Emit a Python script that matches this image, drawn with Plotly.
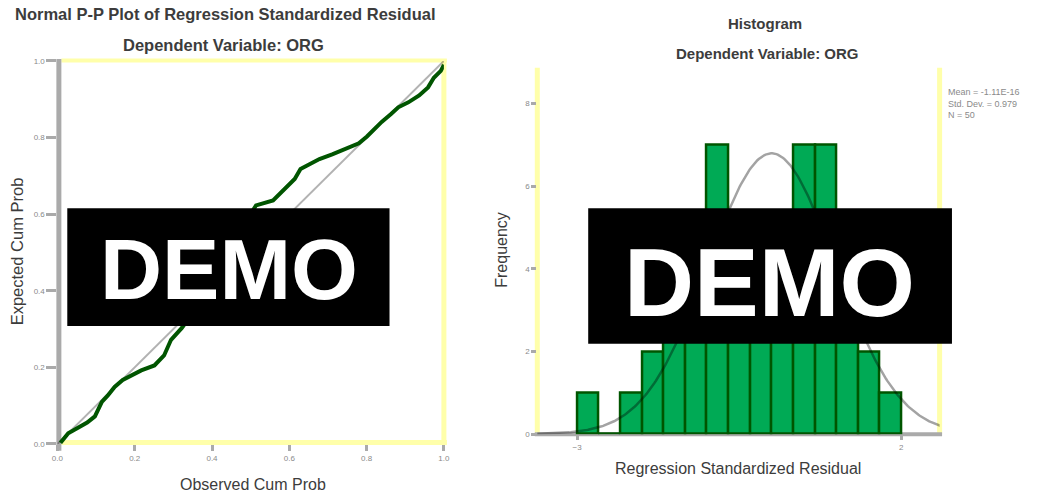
import numpy as np
import plotly.graph_objects as go

W, H = 1040, 501

# ---- Normal P-P plot of regression standardized residual ----
pp_observed = [0.008, 0.028, 0.051, 0.077, 0.097, 0.115, 0.130, 0.148, 0.169, 0.194,
               0.217, 0.251, 0.276, 0.294, 0.309, 0.322, 0.370, 0.430, 0.480, 0.514,
               0.558, 0.583, 0.601, 0.614, 0.629, 0.652, 0.678, 0.711, 0.744, 0.780,
               0.801, 0.821, 0.839, 0.864, 0.882, 0.908, 0.936, 0.959, 0.974, 0.992, 1.000]
pp_expected = [0.003, 0.028, 0.041, 0.056, 0.072, 0.110, 0.126, 0.149, 0.167, 0.179,
               0.192, 0.205, 0.231, 0.272, 0.290, 0.303, 0.370, 0.470, 0.570, 0.623,
               0.636, 0.662, 0.679, 0.692, 0.718, 0.731, 0.744, 0.756, 0.769, 0.785,
               0.803, 0.823, 0.841, 0.862, 0.879, 0.892, 0.910, 0.931, 0.956, 0.974, 0.990]
ref_line = [0.0, 1.0]
pp_ticks = [0.0, 0.2, 0.4, 0.6, 0.8, 1.0]
pp_ticklabels = ["0.0", "0.2", "0.4", "0.6", "0.8", "1.0"]

# ---- Histogram of regression standardized residual ----
bin_lower = [-3.0, -2.667, -2.333, -2.0, -1.667, -1.333, -1.0, -0.667,
             -0.333, 0.0, 0.333, 0.667, 1.0, 1.333, 1.667]
bin_width = 1 / 3
frequency = [1, 0, 1, 2, 3, 4, 7, 4, 4, 4, 7, 7, 3, 2, 1]
resid_mean = 0.0
resid_sd = 0.979
resid_n = 50
hist_xticks = [-3, 2]
hist_yticks = [0, 2, 4, 6, 8]

GREEN_FILL = "#00aa55"
GREEN_DARK = "#005500"
YELLOW = "#ffffaa"
GRAY = "#aaaaaa"
TEXT = "#3c3c3c"
FONT = "Liberation Sans, Arial, sans-serif"


def px(x):
    return x / W


def py(y):
    return 1 - y / H


fig = go.Figure()

# P-P plot traces
fig.add_trace(go.Scatter(x=ref_line, y=ref_line, mode="lines",
                         line=dict(color="rgba(0,0,0,0.30)", width=2),
                         xaxis="x", yaxis="y", hoverinfo="skip"))
fig.add_trace(go.Scatter(x=pp_observed, y=pp_expected, mode="lines",
                         line=dict(color=GREEN_DARK, width=4),
                         xaxis="x", yaxis="y"))

# Histogram bars
centers = [b + bin_width / 2 for b in bin_lower]
fig.add_trace(go.Bar(x=centers, y=frequency, width=bin_width,
                     marker=dict(color=GREEN_FILL, line=dict(color=GREEN_DARK, width=2.5)),
                     xaxis="x2", yaxis="y2"))

# Normal curve scaled to counts per bin
cx = np.linspace(-3.62, 2.62, 300)
cy = resid_n * bin_width / (resid_sd * np.sqrt(2 * np.pi)) * np.exp(-0.5 * ((cx - resid_mean) / resid_sd) ** 2)
fig.add_trace(go.Scatter(x=cx, y=cy, mode="lines",
                         line=dict(color="rgba(0,0,0,0.36)", width=2.5),
                         xaxis="x2", yaxis="y2", hoverinfo="skip"))

tickfont = dict(family=FONT, size=8, color="#8a8a8a")
fig.update_layout(
    width=W, height=H,
    margin=dict(l=0, r=0, t=0, b=0),
    paper_bgcolor="white",
    plot_bgcolor="rgba(0,0,0,0)",
    showlegend=False,
    bargap=0,
    xaxis=dict(domain=[px(52), px(443)], range=[0, 1], tickvals=pp_ticks, ticktext=pp_ticklabels,
               ticks="outside", ticklen=6, tickwidth=3, tickcolor=GRAY, tickfont=tickfont,
               showgrid=False, zeroline=False, showline=False, anchor="y"),
    yaxis=dict(domain=[py(448), py(58)], range=[0, 1], tickvals=pp_ticks, ticktext=pp_ticklabels,
               ticks="outside", ticklen=10, tickwidth=3, tickcolor=GRAY, tickfont=tickfont,
               showgrid=False, zeroline=False, showline=False, anchor="x"),
    xaxis2=dict(domain=[px(537.5), px(944.5)], range=[-3.613, 2.591], tickvals=hist_xticks,
                ticks="outside", ticklen=5, tickwidth=3, tickcolor=GRAY, tickfont=tickfont,
                showgrid=False, zeroline=False, showline=False, anchor="y2"),
    yaxis2=dict(domain=[py(438), py(65)], range=[0, 8.86], tickvals=hist_yticks,
                ticks="outside", ticklen=5, tickwidth=3, tickcolor=GRAY, tickfont=tickfont,
                showgrid=False, zeroline=False, showline=False, anchor="x2"),
)

shapes = []


def hline(y, x0, x1, color, width=4, layer="below"):
    shapes.append(dict(type="line", xref="paper", yref="paper", x0=px(x0), x1=px(x1),
                       y0=py(y), y1=py(y), line=dict(color=color, width=width), layer=layer))


def vline(x, y0, y1, color, width=4, layer="below"):
    shapes.append(dict(type="line", xref="paper", yref="paper", x0=px(x), x1=px(x),
                       y0=py(y0), y1=py(y1), line=dict(color=color, width=width), layer=layer))


# P-P plot frame
hline(57.5, 56, 446, YELLOW, 4)
vline(443, 56, 449, YELLOW, 5)
hline(446.5, 56, 446, YELLOW, 5)
vline(53.5, 56, 455, GRAY, 5)

# Histogram frame
vline(537.5, 65, 438, YELLOW, 5)
vline(944.5, 65, 438, YELLOW, 5)
hline(438, 535, 947, GRAY, 4)

# Watermark panels
shapes.append(dict(type="rect", xref="paper", yref="paper", x0=px(62), x1=px(388),
                   y0=py(328), y1=py(208), fillcolor="black", line=dict(width=0), layer="above"))
shapes.append(dict(type="rect", xref="paper", yref="paper", x0=px(589), x1=px(957),
                   y0=py(346), y1=py(208), fillcolor="black", line=dict(width=0), layer="above"))
fig.update_layout(shapes=shapes)


def note(text, x, y, size, bold=False, color=TEXT, xanchor="center", yanchor="middle", angle=0):
    t = f"<b>{text}</b>" if bold else text
    fig.add_annotation(text=t, x=px(x), y=py(y), xref="paper", yref="paper", showarrow=False,
                       xanchor=xanchor, yanchor=yanchor, textangle=angle,
                       font=dict(family=FONT, size=size, color=color))


# Titles
note("Normal P-P Plot of Regression Standardized Residual", 222, 10, 16.5, bold=True)
note("Dependent Variable: ORG", 220, 42, 16.5, bold=True)
note("Histogram", 768, 20, 15, bold=True)
note("Dependent Variable: ORG", 770, 50, 15, bold=True)

# Axis titles
note("Observed Cum Prob", 250, 489, 16)
note("Expected Cum Prob", 12, 252, 16.5, angle=-90)
note("Regression Standardized Residual", 741, 473, 16)
note("Frequency", 501, 250, 16, angle=-90)

# Histogram statistics
fig.add_annotation(text=f"Mean = -1.11E-16<br>Std. Dev. = {resid_sd}<br>N = {resid_n}",
                   x=px(951), y=py(82), xref="paper", yref="paper", showarrow=False,
                   xanchor="left", yanchor="top", align="left",
                   font=dict(family=FONT, size=9, color="#8a8a8a"))

# Watermark text
note("<b>DEMO</b>", 226, 270, 86, color="white")
note("<b>DEMO</b>", 772, 284, 97, color="white")

fig.write_html("out.html")
